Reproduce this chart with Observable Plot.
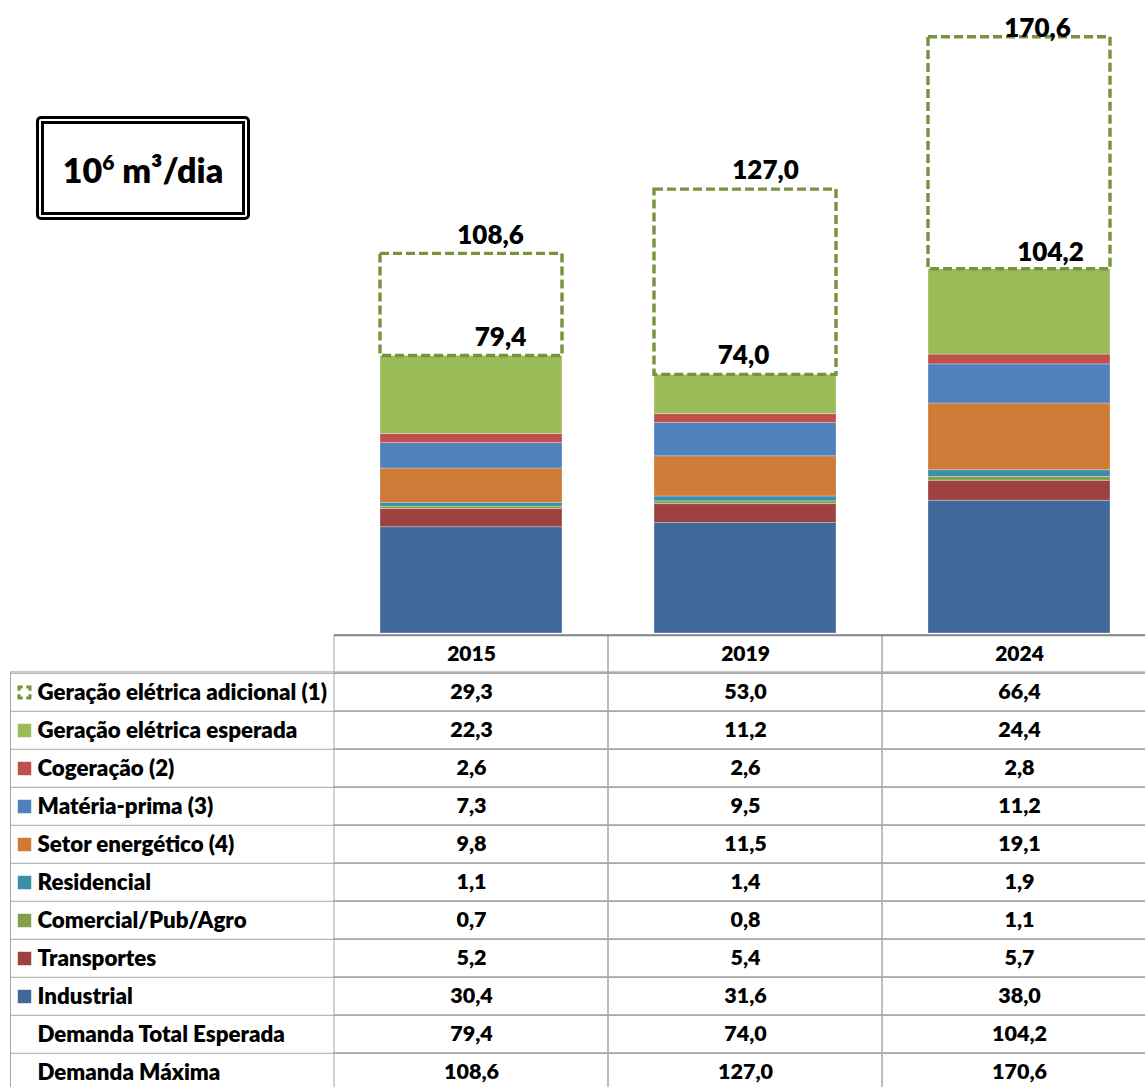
<!DOCTYPE html>
<html><head><meta charset="utf-8">
<script src="https://cdn.jsdelivr.net/npm/d3@7"></script>
<script src="https://cdn.jsdelivr.net/npm/@observablehq/plot@0.6"></script>
<style>
body{margin:0;background:#fff;}
#root{position:relative;width:1145px;height:1087px;overflow:hidden;font-family:Lato,"Open Sans",sans-serif;}
#root svg{position:absolute;left:0;}
#unit{position:absolute;left:36px;top:116px;width:214px;height:104px;box-sizing:border-box;border:8px double #000;border-radius:5px;display:flex;align-items:center;justify-content:center;font-weight:800;font-size:34px;color:#000;padding-top:2px;}
#unit sup{font-size:21px;vertical-align:0;position:relative;top:-13px;}
</style></head><body><div id="root"><div id="unit"><span>10<sup>6</sup> m³/dia</span></div></div>
<script>
// ---- data ----
const years = ["2015", "2019", "2024"];
const categories = ["Industrial", "Transportes", "Comercial/Pub/Agro", "Residencial", "Setor energético (4)", "Matéria-prima (3)", "Cogeração (2)", "Geração elétrica esperada"];
const industrial = [30.4, 31.6, 38.0];
const transportes = [5.2, 5.4, 5.7];
const comercial = [0.7, 0.8, 1.1];
const residencial = [1.1, 1.4, 1.9];
const setorEnergetico = [9.8, 11.5, 19.1];
const materiaPrima = [7.3, 9.5, 11.2];
const cogeracao = [2.6, 2.6, 2.8];
const geracaoEsperada = [22.3, 11.2, 24.4];
const geracaoAdicional = [29.3, 53.0, 66.4];
const demandaTotal = [79.4, 74.0, 104.2];
const demandaMaxima = [108.6, 127.0, 170.6];
const addLabel = "Geração elétrica adicional (1)";
const totalLabel = "Demanda Total Esperada";
const maxLabel = "Demanda Máxima";

// ---- styles ----
const colors = ["#416a9b", "#9e4141", "#849e49", "#3a8fa7", "#cd7b37", "#4f81bd", "#c0504d", "#9bbb59"];
const dashColor = "#77933c";
const gridColor = "#a6a6a6";
const font = "Lato, 'Open Sans', sans-serif";
const weight = 800;
const fmt = v => v.toFixed(1).replace(".", ",");

const series = [industrial, transportes, comercial, residencial, setorEnergetico, materiaPrima, cogeracao, geracaoEsperada];
const stacked = categories.flatMap((c, i) => years.map((y, j) => ({year: y, category: c, value: series[i][j]})));
const boxes = years.map((y, j) => ({year: y, total: demandaTotal[j], max: demandaMaxima[j]}));

// label nudges (Excel label placement)
const maxNudge = {"2015": [19, -18], "2019": [20, -19], "2024": [18, -9]};
const totNudge = {"2015": [29, -18], "2019": [-2, -19], "2024": [31, -17]};

const chart = Plot.plot({
  width: 1145, height: 633, margin: 0,
  style: {background: "transparent", fontFamily: font},
  x: {domain: years, range: [333, 1156], paddingInner: 0.336, paddingOuter: 0.168, axis: null},
  y: {domain: [0, 181.1], range: [633, 0], axis: null},
  color: {domain: categories, range: colors},
  marks: [
    Plot.barY(stacked, {x: "year", y: "value", fill: "category", order: categories, stroke: "#ffffff", strokeOpacity: 0.35, strokeWidth: 0.8}),
    Plot.barY(boxes, {x: "year", y1: "total", y2: "max", fill: "none", stroke: dashColor, strokeWidth: 3.4, strokeDasharray: "9,4"}),
    ...years.map(yr => Plot.text(boxes.filter(d => d.year === yr), {x: "year", y: "max", text: d => fmt(d.max), dx: maxNudge[yr][0], dy: maxNudge[yr][1], fontSize: 26, fontWeight: weight, fill: "#000"})),
    ...years.map(yr => Plot.text(boxes.filter(d => d.year === yr), {x: "year", y: "total", text: d => fmt(d.total), dx: totNudge[yr][0], dy: totNudge[yr][1], fontSize: 26, fontWeight: weight, fill: "#000"}))
  ]
});
chart.style.top = "0px";

// ---- table ----
const tableRows = [
  {label: addLabel, values: geracaoAdicional, kind: "add"},
  ...categories.slice().reverse().map((c, k) => ({label: c, values: series[series.length - 1 - k], kind: "cat"})),
  {label: totalLabel, values: demandaTotal, kind: "none"},
  {label: maxLabel, values: demandaMaxima, kind: "none"}
];
const headerKey = "__header";
const rowKeys = [headerKey, ...tableRows.map(d => d.label)];
const rowH = 38.4;
const cells = rowKeys.flatMap(r => years.map(y => ({row: r, year: y})));
const valueCells = tableRows.flatMap(r => years.map((y, j) => ({row: r.label, year: y, v: r.values[j]})));

const table = Plot.plot({
  width: 1145, height: 456,
  marginLeft: 10, marginRight: -12, marginTop: 2, marginBottom: -30,
  style: {background: "transparent", fontFamily: font},
  x: {domain: years, range: [333, 1157], padding: 0, axis: null},
  y: {domain: rowKeys, range: [2, 2 + rowKeys.length * rowH], padding: 0, axis: null},
  color: {domain: categories, range: colors},
  marks: [
    Plot.frame({stroke: gridColor, insetTop: rowH}),
    Plot.ruleY(rowKeys.slice(1), {y: d => d, dy: -rowH / 2, stroke: gridColor}),
    Plot.cell(cells, {x: "year", y: "row", fill: "none", stroke: gridColor}),
    Plot.ruleY([headerKey], {y: d => d, x1: () => years[0], x2: () => years[years.length - 1], dy: -rowH / 2, stroke: "#878787", strokeWidth: 2}),
    Plot.text(years, {x: d => d, y: () => headerKey, text: d => d, fontSize: 21, fontWeight: weight, fill: "#000"}),
    Plot.text(valueCells, {x: "year", y: "row", text: d => fmt(d.v), fontSize: 21.5, fontWeight: weight, fill: "#000"}),
    Plot.text(tableRows, {y: "label", text: "label", frameAnchor: "left", dx: 27, textAnchor: "start", fontSize: 22.3, fontWeight: weight, fill: "#000"}),
    Plot.dot(tableRows.filter(d => d.kind === "cat"), {y: "label", frameAnchor: "left", dx: 14, symbol: "square", r: 7.6, fill: "label"}),
    Plot.dot(tableRows.filter(d => d.kind === "add"), {y: "label", frameAnchor: "left", dx: 14, symbol: "square", r: 6.2, fill: "none", stroke: dashColor, strokeWidth: 3, strokeDasharray: "7.5,3.5", strokeDashoffset: 3.75})
  ]
});
table.style.top = "631px";

const root = document.getElementById("root");
root.appendChild(chart);
root.appendChild(table);
</script>
</body></html>
